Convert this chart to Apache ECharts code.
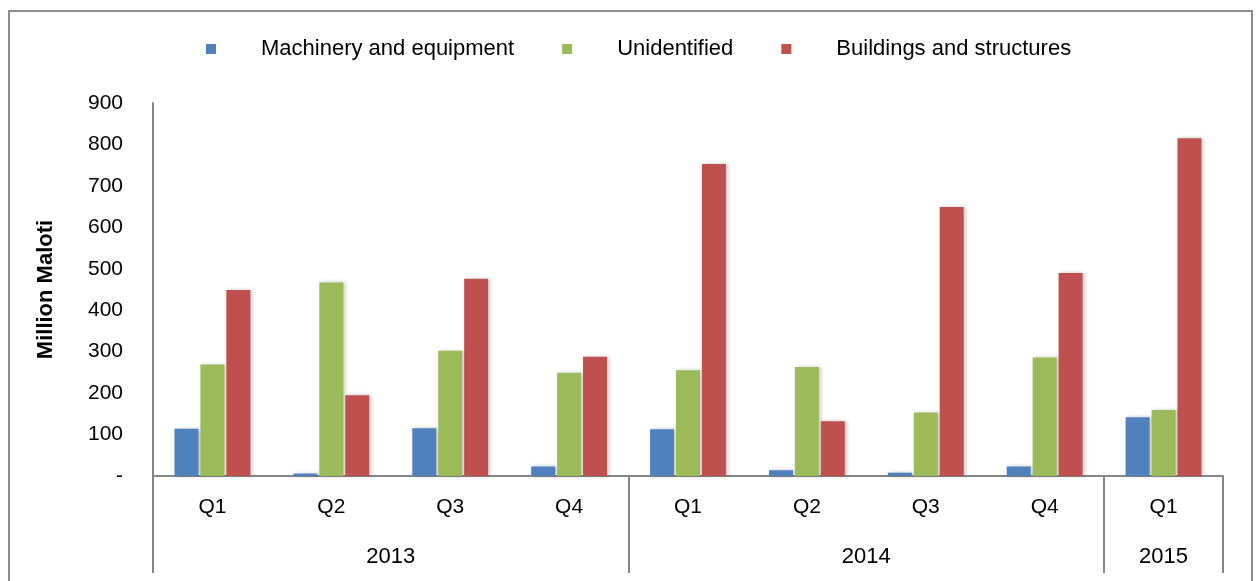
<!DOCTYPE html>
<html>
<head>
<meta charset="utf-8">
<script src="https://cdn.jsdelivr.net/npm/echarts@6/dist/echarts.min.js"></script>
<style>
  html, body { margin: 0; padding: 0; background: #fff; }
  #wrap { position: relative; width: 1256px; height: 581px; overflow: hidden; }
  #frame { position: absolute; left: 8px; top: 10px; width: 1245px; height: 600px; border: 2px solid #8c8c8c; box-sizing: border-box; }
  #chart { position: absolute; left: 0; top: 0; width: 1256px; height: 581px; }
</style>
</head>
<body>
<div id="wrap">
  <div id="frame"></div>
  <div id="chart"></div>
</div>
<script>
// ---- data ----
const quarters = ['Q1', 'Q2', 'Q3', 'Q4', 'Q1', 'Q2', 'Q3', 'Q4', 'Q1'];
const years = ['2013', '2014', '2015'];
const quartersPerYear = [4, 4, 1];
const seriesNames = ['Machinery and equipment', 'Unidentified', 'Buildings and structures'];
const machinery = [114, 6, 115, 23, 113, 14, 8, 23, 142];
const unidentified = [269, 467, 302, 249, 255, 263, 153, 286, 159];
const buildings = [449, 195, 476, 288, 753, 132, 649, 490, 815];
const yTicks = [0, 100, 200, 300, 400, 500, 600, 700, 800, 900];

// ---- derived year-axis positions ----
const boundaries = [0];
const centers = [];
quartersPerYear.forEach(n => {
  const start = boundaries[boundaries.length - 1];
  centers.push(start + n / 2);
  boundaries.push(start + n);
});

const colors = ['#4F81BD', '#9BBB59', '#C0504D'];
const font = '"Liberation Sans", Arial, sans-serif';

const chart = echarts.init(document.getElementById('chart'), null, { renderer: 'canvas' });

const barStyle = (c) => ({
  color: c,
  shadowColor: 'rgba(0,0,0,0.22)',
  shadowBlur: 4,
  shadowOffsetX: 2,
  shadowOffsetY: 0
});

chart.setOption({
  animation: false,
  backgroundColor: 'transparent',
  color: colors,
  textStyle: { fontFamily: font },
  legend: {
    left: 201,
    top: 33,
    itemWidth: 10,
    itemHeight: 10,
    itemGap: 48,
    icon: 'rect',
    textStyle: { fontSize: 22, color: '#000', fontFamily: font, padding: [0, 0, 0, 40] },
    data: seriesNames
  },
  grid: { left: 153, right: 33, top: 103, bottom: 105, containLabel: false },
  xAxis: [
    {
      type: 'category',
      data: quarters,
      position: 'bottom',
      axisLine: { show: true, lineStyle: { color: '#868686', width: 2 } },
      axisTick: { show: false },
      axisLabel: { fontSize: 21, color: '#000', margin: 21, fontFamily: font }
    },
    {
      type: 'value',
      min: 0,
      max: quarters.length,
      position: 'bottom',
      axisLine: { show: false },
      splitLine: { show: false },
      axisTick: {
        show: true,
        customValues: boundaries,
        length: 97,
        lineStyle: { color: '#868686', width: 2 }
      },
      axisLabel: {
        show: true,
        customValues: centers,
        formatter: (v) => {
          const i = centers.findIndex(c => Math.abs(c - v) < 1e-6);
          return i >= 0 ? years[i] : '';
        },
        fontSize: 22,
        color: '#000',
        margin: 70,
        fontFamily: font
      }
    }
  ],
  yAxis: {
    type: 'value',
    min: yTicks[0],
    max: yTicks[yTicks.length - 1],
    interval: yTicks[1] - yTicks[0],
    name: 'Million Maloti',
    nameLocation: 'middle',
    nameGap: 96,
    nameRotate: 90,
    nameTextStyle: { fontSize: 22, fontWeight: 'bold', color: '#000', fontFamily: font },
    axisLine: { show: true, lineStyle: { color: '#868686', width: 2 } },
    axisTick: { show: false },
    splitLine: { show: false },
    axisLabel: {
      fontSize: 21,
      color: '#000',
      margin: 30,
      fontFamily: font,
      formatter: (v) => (v === 0 ? '-' : String(v))
    }
  },
  series: [
    { name: seriesNames[0], type: 'bar', xAxisIndex: 0, data: machinery, barWidth: 24, barGap: '8%', itemStyle: barStyle(colors[0]) },
    { name: seriesNames[1], type: 'bar', xAxisIndex: 0, data: unidentified, barWidth: 24, barGap: '8%', itemStyle: barStyle(colors[1]) },
    { name: seriesNames[2], type: 'bar', xAxisIndex: 0, data: buildings, barWidth: 24, barGap: '8%', itemStyle: barStyle(colors[2]) }
  ]
});
</script>
</body>
</html>
